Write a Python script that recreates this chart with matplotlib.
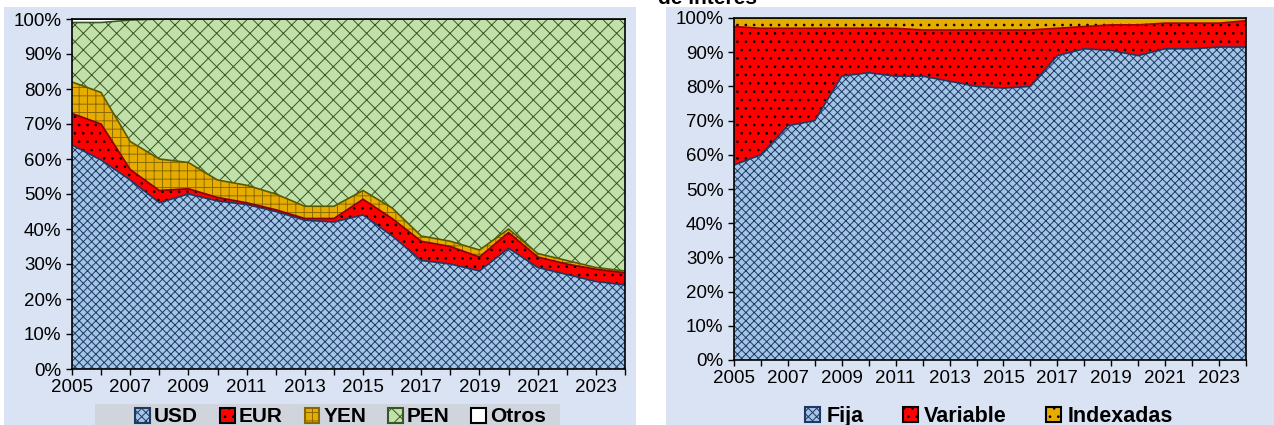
import matplotlib.pyplot as plt
import numpy as np
from matplotlib.patches import Patch, Rectangle

plt.rcParams['font.family'] = ['Liberation Sans', 'DejaVu Sans']
plt.rcParams['hatch.linewidth'] = 0.7

years = np.arange(2005, 2025)

# left panel: share of debt by currency (%)
usd = [64, 59.7, 54, 47.5, 50, 48, 47, 45, 42.5, 42, 44, 38, 31, 30, 28, 34.5, 29, 27, 25, 24]
eur = [9, 10.3, 3, 3.5, 1.5, 1, 0.5, 0.5, 0.5, 1, 4.5, 5, 5.5, 5, 4, 4.5, 3, 3, 3.5, 3.5]
yen = [9, 9, 8, 9, 7.5, 5, 5, 4.5, 3.5, 3.5, 2.5, 3, 1.5, 1.5, 2, 1, 1, 1, 0.5, 0.5]
otros = [1, 1, 0.3, 0, 0, 0, 0, 0, 0, 0, 0, 0, 0, 0, 0, 0, 0, 0, 0, 0]
pen = [100 - a - b - c - d for a, b, c, d in zip(usd, eur, yen, otros)]

# right panel: share by interest rate type (%)
fija = [57, 60, 68.5, 70, 83, 84, 83, 83, 81.5, 80, 79.5, 80, 89, 91, 90.5, 89, 91, 91, 91.5, 91.5]
variable = [40.5, 37, 28.5, 27, 14, 13, 14, 13.5, 15, 16.5, 17, 16.5, 8, 6.5, 7.5, 9, 7.5, 7.5, 7, 7.7]
indexadas = [100 - a - b for a, b in zip(fija, variable)]

bg = '#DAE3F3'

fig = plt.figure(figsize=(12.74, 4.25), dpi=100)
fig.patches.append(Rectangle((4 / 1274, 0), 632 / 1274, 418 / 425, transform=fig.transFigure,
                             facecolor=bg, edgecolor='none', zorder=-10))
fig.patches.append(Rectangle((666 / 1274, 0), 608 / 1274, 418 / 425, transform=fig.transFigure,
                             facecolor=bg, edgecolor='none', zorder=-10))
fig.patches.append(Rectangle((95 / 1274, 0), 465 / 1274, 21 / 425, transform=fig.transFigure,
                             facecolor='#D0D5DD', edgecolor='none', zorder=-9))
# title is cut off at the top edge in the original
fig.text(707 / 1274, 1 + 1 / 425, 'de interés', ha='center', va='center',
         fontsize=15, fontweight='bold')


def stacked(ax, series):
    base = np.zeros(len(years))
    handles = []
    for vals, name, fc, hc, hatch, lc in series:
        top = base + np.array(vals)
        ax.fill_between(years, base, top, facecolor=fc, edgecolor='none', linewidth=0)
        if hatch:
            ax.fill_between(years, base, top, facecolor='none', edgecolor=hc,
                            hatch=hatch, linewidth=0)
        ax.plot(years, top, color=lc, linewidth=1.2)
        handles.append(Patch(facecolor=fc, edgecolor=hc, hatch=hatch, linewidth=1.5, label=name))
        base = top
    ax.set_xlim(2005, 2024)
    ax.set_ylim(0, 100)
    ax.set_yticks(range(0, 101, 10))
    ax.set_yticklabels(['%d%%' % v for v in range(0, 101, 10)])
    ax.set_xticks(range(2005, 2025, 2))
    ax.set_xticks(years, minor=True)
    ax.tick_params(axis='both', labelsize=13.5, direction='out', length=4, width=1)
    ax.tick_params(axis='x', which='minor', length=4, width=1)
    for s in ax.spines.values():
        s.set_linewidth(1.2)
    ax.set_facecolor(bg)
    return handles


ax1 = fig.add_axes([72 / 1274, 56 / 425, 553 / 1274, 350 / 425])
h1 = stacked(ax1, [
    (usd, 'USD', '#A3C5E6', '#1F3864', 'xxxx', '#1F3864'),
    (eur, 'EUR', '#FF0000', '#000000', '..', '#8B0000'),
    (yen, 'YEN', '#E6AC00', '#8A6A00', '++', '#5A5A00'),
    (pen, 'PEN', '#C2E0AA', '#375623', 'xx', '#375623'),
    (otros, 'Otros', '#FFFFFF', '#000000', '', '#000000'),
])
ax1.legend(handles=h1, loc='upper center', bbox_to_anchor=(0.486, -0.11), ncol=5, frameon=False,
           prop={'weight': 'bold', 'size': 15}, handlelength=0.7, handleheight=0.7,
           handletextpad=0.2, columnspacing=1.05, borderaxespad=0, borderpad=0)

ax2 = fig.add_axes([734 / 1274, 65 / 425, 512 / 1274, 342 / 425])
h2 = stacked(ax2, [
    (fija, 'Fija', '#A3C5E6', '#1F3864', 'xxxx', '#1F3864'),
    (variable, 'Variable', '#FF0000', '#000000', '..', '#A00000'),
    (indexadas, 'Indexadas', '#E6AC00', '#000000', '..', '#6B5A00'),
])
ax2.legend(handles=h2, loc='upper center', bbox_to_anchor=(0.498, -0.135), ncol=3, frameon=False,
           prop={'weight': 'bold', 'size': 15.5}, handlelength=0.7, handleheight=0.7,
           handletextpad=0.3, columnspacing=1.8, borderaxespad=0, borderpad=0)

fig.savefig('out.png', dpi=100)
